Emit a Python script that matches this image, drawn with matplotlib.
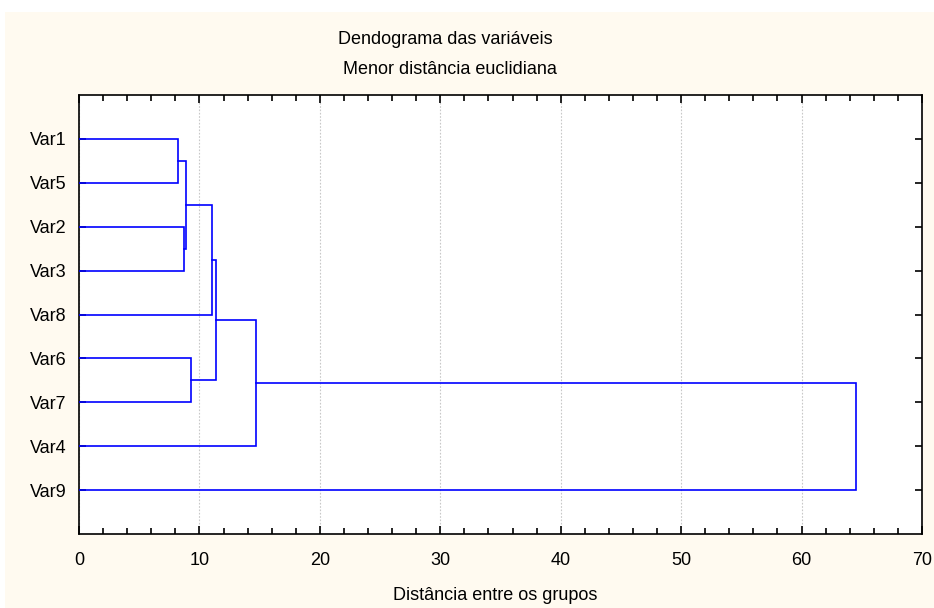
import matplotlib
matplotlib.use("Agg")
import matplotlib.pyplot as plt
from matplotlib.patches import Rectangle
from matplotlib.ticker import MultipleLocator

# leaf order as shown top to bottom
labels = ["Var1", "Var5", "Var2", "Var3", "Var8", "Var6", "Var7", "Var4", "Var9"]
# merges: (cluster a, cluster b, distance); clusters >= len(labels) are earlier merges
merge_a = [0, 2, 9, 11, 5, 12, 14, 15]
merge_b = [1, 3, 10, 4, 6, 13, 7, 8]
merge_dist = [8.24, 8.76, 8.88, 11.04, 9.26, 11.4, 14.66, 64.5]

title1 = "Dendograma das variáveis"
title2 = "Menor distância euclidiana"
xlabel = "Distância entre os grupos"

plt.rcParams["font.family"] = ["Liberation Sans", "DejaVu Sans"]

def main():
    fig = plt.figure(figsize=(9.34, 6.08), dpi=100, facecolor="white")
    # cream backdrop like the original export
    fig.patches.append(Rectangle((5 / 934, 0), 1, 1 - 12 / 608, transform=fig.transFigure,
                                 facecolor="#fffaf0", edgecolor="none", zorder=-10))
    ax = fig.add_axes([79 / 934, 1 - 534 / 608, (922 - 79) / 934, (534 - 95) / 608])
    ax.set_facecolor("white")

    n = len(labels)
    ypos = {i: i + 1 for i in range(n)}
    hgt = {i: 0.0 for i in range(n)}
    for k, (a, b, d) in enumerate(zip(merge_a, merge_b, merge_dist)):
        ya, yb = ypos[a], ypos[b]
        ax.plot([hgt[a], d, d, hgt[b]], [ya, ya, yb, yb], color="#0000ff", lw=1.2,
                solid_joinstyle="miter", zorder=3)
        ypos[n + k] = (ya + yb) / 2
        hgt[n + k] = d

    ax.set_xlim(0, 70)
    ax.set_ylim(n + 1, 0)
    ax.xaxis.set_major_locator(MultipleLocator(10))
    ax.xaxis.set_minor_locator(MultipleLocator(2))
    ax.set_yticks(range(1, n + 1))
    ax.set_yticklabels(labels)
    ax.tick_params(axis="both", which="both", direction="in", top=True, right=True,
                   labelsize=13, color="black", width=1.2)
    ax.tick_params(axis="x", which="major", length=6, pad=13)
    ax.tick_params(axis="x", which="minor", length=4)
    ax.tick_params(axis="y", which="major", length=5, pad=9)
    ax.grid(axis="x", which="major", linestyle=(0, (1.5, 1.5)), color="#c8c8c8", lw=0.8)
    for s in ax.spines.values():
        s.set_linewidth(1.2)

    fig.text(445 / 934, 1 - 40 / 608, title1, ha="center", va="center", fontsize=13)
    fig.text(450 / 934, 1 - 69 / 608, title2, ha="center", va="center", fontsize=13)
    fig.text(495 / 934, 1 - 595 / 608, xlabel, ha="center", va="center", fontsize=13)

    fig.savefig("out.png", dpi=100, facecolor=fig.get_facecolor())

if __name__ == "__main__":
    main()
